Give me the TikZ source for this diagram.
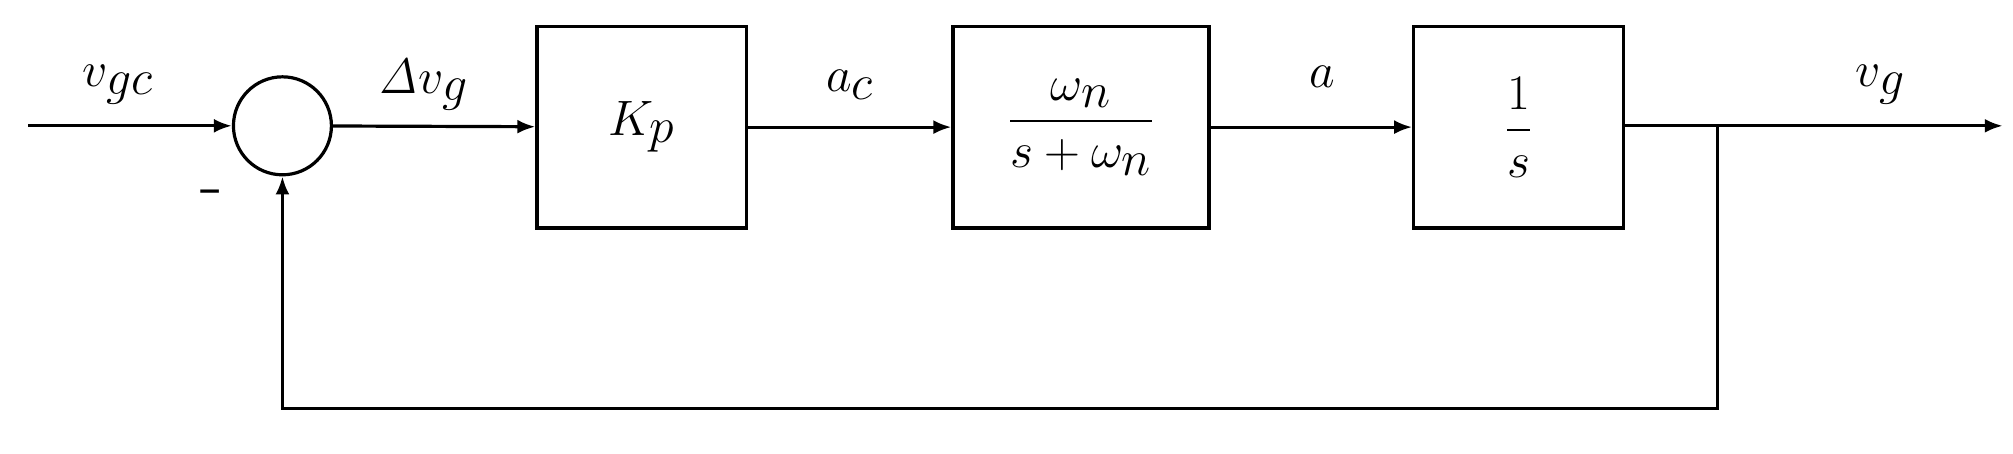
\documentclass[tikz,border=0pt]{standalone}
\usepackage{amsmath}
\usetikzlibrary{arrows.meta}
\begin{document}
\begin{tikzpicture}[x=0.642pt,y=-0.642pt,
  font=\fontsize{37}{44}\selectfont,
  block/.style={draw, line width=1.6pt, minimum width=105pt, minimum height=101pt, inner sep=0pt},
  sum/.style={draw, circle, line width=1.6pt, minimum size=49pt, inner sep=0pt},
  line/.style={-{Latex[length=9pt,width=7pt]}, line width=1.6pt},
  lbl/.style={inner sep=0pt}
]
\useasboundingbox (0,0) rectangle (1568,353);
\coordinate (in) at (22,98);
\node[sum] (sum) at (220,98) {};
\node[block] (kp) at (500,99) {$K_p$};
\node[block, minimum width=128pt] (act) at (842,99) {$\dfrac{\omega_n}{s+\omega_n}$};
\node[block] (int) at (1183,99) {$\dfrac{1}{s}$};
\coordinate (out) at (1560,98);
\coordinate (br) at (1338,98);
\coordinate (fb1) at (1338,318);
\coordinate (fb2) at (220,318);

\draw[line] (in) -- (sum);
\draw[line] (sum) -- (kp);
\draw[line] (kp) -- (act);
\draw[line] (act) -- (int);
\draw[line] (int.east |- out) -- (out);
\draw[line] (br) -- (fb1) -- (fb2) -- (sum);

\node[lbl] (vgc) at (92,66) {$v_{gc}$};
\node[lbl] (dvg) at (330,66) {$\mathit{\Delta} v_g$};
\node[lbl] (ac) at (662,66) {$a_c$};
\node[lbl] (a) at (1030,60) {$a$};
\node[lbl] (vg) at (1465,66) {$v_g$};
\node[lbl] (minus) at (165,155) {-};
\end{tikzpicture}
\end{document}
